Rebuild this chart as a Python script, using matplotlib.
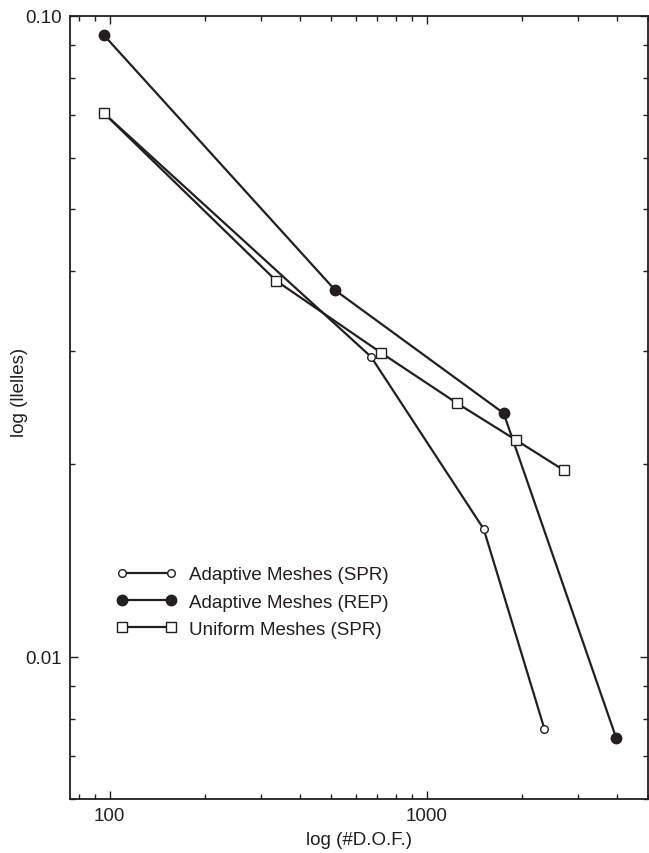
import matplotlib
matplotlib.use("Agg")
import matplotlib.pyplot as plt
from matplotlib.ticker import FixedLocator, NullFormatter, LogLocator

plt.rcParams["font.family"] = ["Liberation Sans", "DejaVu Sans"]

# ── Data ─────────────────────────────────────────────────────────────────────
spr_dof = [96, 668, 1515, 2355]
spr_err = [0.0705, 0.0294, 0.01583, 0.00772]

rep_dof = [96, 516, 1751, 3972]
rep_err = [0.0933, 0.0373, 0.0240, 0.00746]

uni_dof = [96, 336, 720, 1244, 1914, 2718]
uni_err = [0.0705, 0.0386, 0.0298, 0.0249, 0.0218, 0.01954]

labels = ["Adaptive Meshes (SPR)", "Adaptive Meshes (REP)", "Uniform Meshes (SPR)"]
x_ticks = [100, 1000]
x_ticklabels = ["100", "1000"]
y_ticks = [0.01, 0.1]
y_ticklabels = ["0.01", "0.10"]

ink = "#231f20"
fs = 13.5

fig = plt.figure(figsize=(6.49, 8.54), dpi=100)
ax = fig.add_axes([0.1079, 0.0632, 0.8906, 0.9169])

# ── Series ───────────────────────────────────────────────────────────────────
ax.plot(spr_dof, spr_err, "-o", color=ink, lw=1.6, ms=5.5,
        mfc="white", mec=ink, mew=1.0, label=labels[0])
ax.plot(rep_dof, rep_err, "-o", color=ink, lw=1.6, ms=7.5,
        mfc=ink, mec=ink, label=labels[1])
ax.plot(uni_dof, uni_err, "-s", color=ink, lw=1.6, ms=6.5,
        mfc="white", mec=ink, mew=1.0, label=labels[2])

# ── Axes ─────────────────────────────────────────────────────────────────────
ax.set_xscale("log")
ax.set_yscale("log")
ax.set_xlim(75, 5000)
ax.set_ylim(0.006, 0.1)

ax.xaxis.set_major_locator(FixedLocator(x_ticks))
ax.set_xticklabels(x_ticklabels)
ax.yaxis.set_major_locator(FixedLocator(y_ticks))
ax.set_yticklabels(y_ticklabels)
ax.xaxis.set_minor_locator(LogLocator(base=10, subs=range(2, 10)))
ax.yaxis.set_minor_locator(LogLocator(base=10, subs=range(2, 10)))
ax.xaxis.set_minor_formatter(NullFormatter())
ax.yaxis.set_minor_formatter(NullFormatter())

ax.tick_params(which="both", direction="in", top=True, right=True,
               color=ink, labelsize=fs, labelcolor=ink, width=1.0)
ax.tick_params(which="major", length=6, pad=6)
ax.tick_params(which="minor", length=3.5)
for sp in ax.spines.values():
    sp.set_color(ink)
    sp.set_linewidth(1.3)

ax.set_xlabel("log (#D.O.F.)", fontsize=fs, color=ink, labelpad=5)
ax.set_ylabel("log (llelles)", fontsize=fs, color=ink)
ax.yaxis.set_label_coords(-0.073, 0.52)

# ── Legend ───────────────────────────────────────────────────────────────────
ax.legend(loc="upper left", bbox_to_anchor=(0.180, 0.336),
          bbox_transform=fig.transFigure, frameon=False,
          fontsize=fs, handlelength=3.2, handletextpad=0.65,
          labelspacing=0.55, numpoints=2, borderaxespad=0, borderpad=0,
          labelcolor=ink)

fig.savefig("out.png", dpi=100)
